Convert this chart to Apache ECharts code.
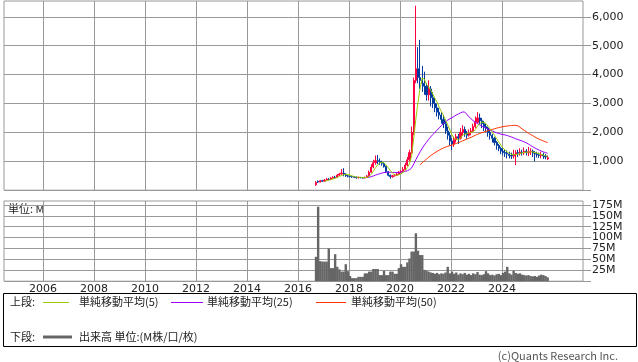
<!DOCTYPE html>
<html><head><meta charset="utf-8">
<script src="https://cdn.jsdelivr.net/npm/echarts@6/dist/echarts.min.js"></script>
<style>html,body{margin:0;padding:0;background:#fff}#c{width:638px;height:362px}</style>
</head><body><div id="c"></div>
<script>
// monthly data, first candle = Sep 2016
const startYear = 2016, startMonth = 9;
const yearTicks = [2006,2008,2010,2012,2014,2016,2018,2020,2022,2024];
const priceTicks = [0,1000,2000,3000,4000,5000,6000];
const priceLabels = [1000,2000,3000,4000,5000,6000];
const volTicks = [0,25,50,75,100,125,150,175];
const volLabels = [25,50,75,100,125,150,175];

const open = [190,300,280,330,310,350,380,370,420,450,
440,520,560,590,560,500,480,470,460,450,
430,440,430,420,440,490,620,800,950,1020,
1000,960,930,820,640,520,470,500,520,560,
620,650,720,870,1050,1300,2000,3800,4200,3900,
3800,3700,3600,3300,3500,3200,3000,2850,2700,2600,
2450,2300,2050,1900,1700,1600,1750,1850,1800,2000,
2100,1950,1900,2000,2050,2200,2350,2500,2400,2300,
2200,2150,2000,1900,1800,1650,1550,1450,1350,1300,
1280,1250,1200,1180,1250,1300,1280,1320,1300,1350,
1300,1330,1350,1280,1250,1220,1200,1220,1180,1080];
const close = [270,280,330,310,350,380,370,420,450,440,
520,560,590,560,500,480,470,460,450,430,
440,430,420,440,490,620,800,950,1020,1000,
960,930,820,640,520,470,500,520,560,620,
650,720,870,1050,1300,2000,3800,4200,3900,3800,
3700,3600,3300,3500,3200,3000,2850,2700,2600,2450,
2300,2050,1900,1700,1600,1750,1850,1800,2000,2100,
1950,1900,2000,2050,2200,2350,2500,2400,2300,2200,
2150,2000,1900,1800,1650,1550,1450,1350,1300,1280,
1250,1200,1180,1250,1300,1280,1320,1300,1350,1300,
1330,1350,1280,1250,1220,1200,1220,1180,1150,1120];
const low = [150,250,270,290,300,330,340,360,400,410,
430,490,530,480,460,440,440,430,420,400,
410,410,400,410,430,480,600,760,880,900,
880,850,780,600,480,400,430,470,500,540,
580,620,680,830,1000,1250,1900,3700,3700,3500,
3400,3300,3100,3100,2900,2840,2700,2550,2450,2300,
2150,1950,1750,1550,1390,1500,1650,1600,1750,1900,
1850,1780,1850,1900,2000,2150,2300,2250,2150,2050,
2000,1850,1750,1650,1550,1400,1350,1250,1200,1150,
1100,1100,1080,1100,870,1150,1200,1200,1220,1200,
1180,1220,1150,1000,1130,1120,1100,1080,1070,1050];
const high = [310,340,350,360,380,420,420,450,480,500,
560,600,730,760,580,530,500,500,480,470,
470,460,450,470,520,680,900,1050,1200,1220,
1100,1020,960,850,660,540,530,560,600,660,
700,800,950,1150,1400,2200,3900,6380,4950,5200,
4300,4100,3700,3800,3600,3400,3200,3000,2850,2700,
2600,2400,2200,2000,1800,1850,1950,1950,2150,2250,
2200,2050,2100,2150,2300,2550,2700,2650,2500,2400,
2300,2200,2100,1950,1850,1700,1600,1500,1450,1400,
1380,1330,1300,1400,1380,1400,1450,1400,1480,1420,
1500,1450,1400,1350,1330,1300,1330,1300,1250,1200];
const volume = [56,171,46,45,45,45,75,30,30,62,
33,27,22,22,39,23,12,7,7,7,
10,10,10,18,18,22,22,28,28,28,
14,14,24,14,14,22,22,17,17,30,
39,33,33,43,52,68,68,110,70,60,
60,26,24,22,20,19,17,19,16,18,
17,20,33,18,22,17,20,15,18,16,
19,15,17,14,18,16,21,15,14,16,
23,18,14,15,13,16,17,14,19,22,
33,18,15,24,19,17,18,15,14,13,
14,12,11,12,10,13,15,14,12,9];
const maPeriods = [5, 25, 50];
const maColors = ['#99cc00', '#9900ff', '#ff3300'];

const t = open.map((_, i) => startYear + (startMonth - 1 + i + 0.5) / 12);
function movingAvg(n) {
  const out = [];
  for (let i = n - 1; i < close.length; i++) {
    let s = 0;
    for (let k = i - n + 1; k <= i; k++) s += close[k];
    out.push([t[i], s / n]);
  }
  return out;
}

const UP = '#ff0040', DOWN = '#003c9f', GRID = '#999';
const FONT = 'DejaVu Sans';
const JP = '"Noto Sans CJK JP", sans-serif';

const xCommon = {
  type: 'value', min: 2004.47, max: 2027.18,
  axisLine: { show: false },
  axisTick: { show: false, customValues: yearTicks },
  splitLine: { show: true, lineStyle: { color: GRID, width: 1 } }
};

const chart = echarts.init(document.getElementById('c'), null, { renderer: 'canvas' });
chart.setOption({
  animation: false,
  backgroundColor: '#fff',
  grid: [
    { left: 4, top: 1, width: 579, height: 189.2, show: true, borderColor: GRID, borderWidth: 1, backgroundColor: '#fff' },
    { left: 4, top: 201, width: 579, height: 80.2, show: true, borderColor: GRID, borderWidth: 1, backgroundColor: '#fff' }
  ],
  xAxis: [
    Object.assign({}, xCommon, { gridIndex: 0, axisLabel: { show: false, customValues: yearTicks } }),
    Object.assign({}, xCommon, { gridIndex: 1, axisLabel: { show: true, customValues: yearTicks, margin: 2,
      fontSize: 11, fontFamily: FONT, color: '#222', formatter: v => String(v) } })
  ],
  yAxis: [
    { type: 'value', gridIndex: 0, position: 'right', min: 0, max: 6545,
      axisLine: { show: false },
      axisTick: { show: true, inside: false, length: 8, customValues: priceTicks, lineStyle: { color: GRID } },
      axisLabel: { customValues: priceLabels, margin: 9, fontSize: 11, fontFamily: FONT, color: '#222',
        formatter: v => Number(v).toLocaleString('en-US') },
      splitLine: { show: true, lineStyle: { color: GRID, width: 1 } } },
    { type: 'value', gridIndex: 1, position: 'right', min: 0, max: 184,
      axisLine: { show: false },
      axisTick: { show: true, inside: false, length: 8, customValues: volTicks, lineStyle: { color: GRID } },
      axisLabel: { customValues: volLabels, margin: 9, fontSize: 11, fontFamily: FONT, color: '#222',
        formatter: v => v + 'M' },
      splitLine: { show: true, lineStyle: { color: GRID, width: 1 } } }
  ],
  series: [
    { type: 'candlestick', xAxisIndex: 0, yAxisIndex: 0, barWidth: 1.6,
      encode: { x: 0, y: [1, 2, 3, 4] },
      data: t.map((x, i) => [x, open[i], close[i], low[i], high[i]]),
      itemStyle: { color: UP, color0: DOWN, borderColor: UP, borderColor0: DOWN, borderWidth: 1 } },
    ...maPeriods.map((n, k) => ({
      type: 'line', xAxisIndex: 0, yAxisIndex: 0, data: movingAvg(n),
      symbol: 'none', showSymbol: false, z: 5 - k,
      lineStyle: { color: maColors[k], width: 1 }
    })),
    { type: 'bar', xAxisIndex: 1, yAxisIndex: 1, barWidth: 2.4,
      data: t.map((x, i) => [x, volume[i]]),
      itemStyle: { color: '#666' } }
  ],
  graphic: [
    { type: 'text', x: 8, y: 209, style: { text: '単位: M', font: '11px ' + JP, fill: '#222', verticalAlign: 'middle' } },
    { type: 'rect', shape: { x: 3.5, y: 293.5, width: 633, height: 53 }, style: { fill: 'none', stroke: '#000', lineWidth: 1 } },
    { type: 'text', x: 10, y: 302, style: { text: '上段:', font: '11px ' + JP, fill: '#222', verticalAlign: 'middle' } },
    { type: 'line', shape: { x1: 43, y1: 302.5, x2: 69, y2: 302.5 }, style: { stroke: maColors[0], lineWidth: 1 } },
    { type: 'text', x: 79, y: 302, style: { text: '単純移動平均(5)', font: '11px ' + JP, fill: '#222', verticalAlign: 'middle' } },
    { type: 'line', shape: { x1: 171, y1: 302.5, x2: 203, y2: 302.5 }, style: { stroke: maColors[1], lineWidth: 1 } },
    { type: 'text', x: 207, y: 302, style: { text: '単純移動平均(25)', font: '11px ' + JP, fill: '#222', verticalAlign: 'middle' } },
    { type: 'line', shape: { x1: 316, y1: 302.5, x2: 346, y2: 302.5 }, style: { stroke: maColors[2], lineWidth: 1 } },
    { type: 'text', x: 351, y: 302, style: { text: '単純移動平均(50)', font: '11px ' + JP, fill: '#222', verticalAlign: 'middle' } },
    { type: 'text', x: 10, y: 337, style: { text: '下段:', font: '11px ' + JP, fill: '#222', verticalAlign: 'middle' } },
    { type: 'line', shape: { x1: 43, y1: 337, x2: 72, y2: 337 }, style: { stroke: '#666', lineWidth: 3 } },
    { type: 'text', x: 79, y: 337, style: { text: '出来高 単位:(M株/口/枚)', font: '11px ' + JP, fill: '#222', verticalAlign: 'middle' } },
    { type: 'text', x: 618, y: 356, style: { text: '(c)Quants Research Inc.', font: '11px ' + JP, fill: '#555', align: 'right', verticalAlign: 'middle' } }
  ]
});
</script></body></html>
